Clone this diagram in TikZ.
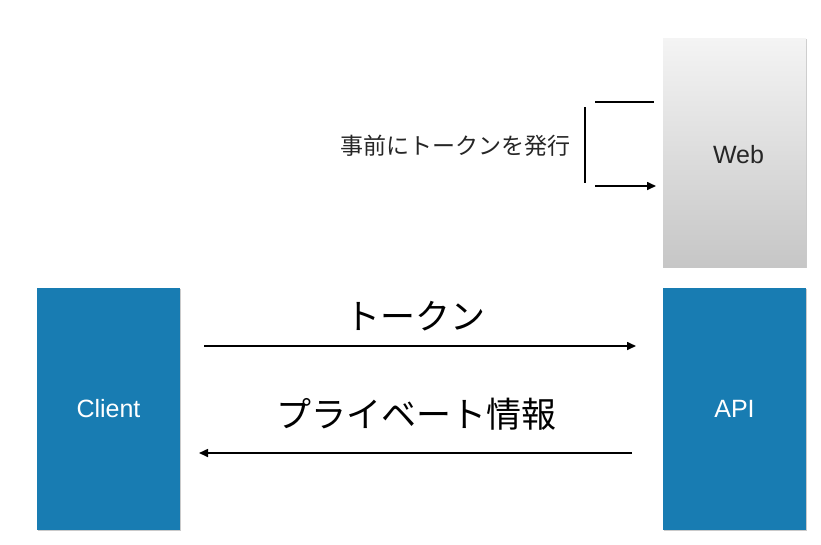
\documentclass[tikz,border=0pt]{standalone}
\usepackage{fontspec}
\setmainfont{Liberation Sans}
\newfontfamily\jp{Noto Sans CJK JP}
\usetikzlibrary{arrows.meta,shadows}
\definecolor{boxblue}{RGB}{24,124,178}
\definecolor{webtop}{RGB}{244,244,244}
\definecolor{webbot}{RGB}{198,198,198}
\tikzset{
  box/.style={rectangle, minimum width=143pt, minimum height=242pt, inner sep=0pt,
    drop shadow={shadow xshift=0.8pt, shadow yshift=-1.2pt, opacity=0.35, fill=black!60}},
  bluebox/.style={box, fill=boxblue, text=white, font=\fontsize{25}{29}\selectfont},
  webbox/.style={box, minimum height=229pt, top color=webtop, bottom color=webbot},
  weblbl/.style={text=black!85, font=\fontsize{25}{29}\selectfont, inner sep=0pt},
  conn/.style={line width=1.6pt, -{Triangle[length=9pt,width=8pt]}},
  plain/.style={line width=1.6pt},
  biglbl/.style={font=\jp\fontsize{35}{40}\selectfont, inner sep=0pt},
  smalllbl/.style={font=\jp\fontsize{23}{27}\selectfont, inner sep=0pt, text=black!85},
}
\begin{document}
\begin{tikzpicture}[x=1pt,y=-1pt]
\useasboundingbox (0,0) rectangle (821,544);
\node[bluebox] (client) at (108.5,409) {Client};
\node[bluebox] (api) at (734.5,409) {API};
\node[webbox] (web) at (734.5,152.5) {};
\node[weblbl] (webtext) at ([xshift=4pt,yshift=-2pt]web.center) {Web};
% token arrow
\coordinate (t1) at (204,346);
\coordinate (t2) at (636,346);
\draw[conn] (t1) -- (t2);
\node[biglbl] (tok) at (415,316) {トークン};
% private info arrow
\coordinate (p1) at (632,453);
\coordinate (p2) at (199,453);
\draw[conn] (p1) -- (p2);
\node[biglbl] (priv) at (416,414) {プライベート情報};
% bracket
\coordinate (b1) at (585,107);
\coordinate (b2) at (585,183);
\coordinate (u1) at (595,102);
\coordinate (u2) at (654,102);
\coordinate (d1) at (595,186);
\coordinate (d2) at (656,186);
\draw[plain] (b1) -- (b2);
\draw[plain] (u1) -- (u2);
\draw[conn] (d1) -- (d2);
\node[smalllbl] (issue) at (455,146) {事前にトークンを発行};
\end{tikzpicture}
\end{document}
